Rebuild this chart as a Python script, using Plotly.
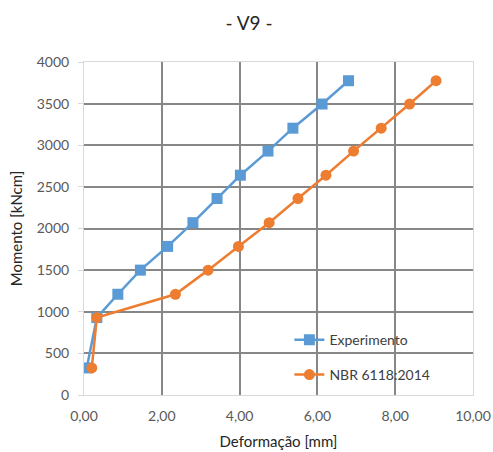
import plotly.graph_objects as go

# Moment-deflection data for beam V9
momento = [325, 930, 1210, 1500, 1785, 2070, 2360, 2640, 2930, 3205, 3495, 3775]
deform_exp = [0.07, 0.33, 0.87, 1.45, 2.15, 2.80, 3.42, 4.02, 4.73, 5.37, 6.12, 6.80]
deform_nbr = [0.20, 0.33, 2.35, 3.19, 3.97, 4.76, 5.50, 6.22, 6.93, 7.64, 8.37, 9.05]

x_ticks = [0, 2, 4, 6, 8, 10]
y_ticks = [0, 500, 1000, 1500, 2000, 2500, 3000, 3500, 4000]

BLUE = "#5B9BD5"
ORANGE = "#ED7D31"
FONT = "Lato"

fig = go.Figure()
fig.add_trace(go.Scatter(
    x=deform_exp, y=momento, mode="lines+markers", name="Experimento",
    line=dict(color=BLUE, width=2.5),
    marker=dict(symbol="square", size=11, color=BLUE),
    legend="legend", showlegend=True,
))
fig.add_trace(go.Scatter(
    x=deform_nbr, y=momento, mode="lines+markers", name="NBR 6118:2014",
    line=dict(color=ORANGE, width=2.5),
    marker=dict(symbol="circle", size=11, color=ORANGE),
    legend="legend2", showlegend=True,
))

legend_common = dict(
    bgcolor="rgba(0,0,0,0)", font=dict(family=FONT, size=14, color="#404040"),
    xanchor="left", yanchor="middle", itemwidth=30, visible=True,
)

fig.update_layout(
    width=493, height=452,
    margin=dict(l=84, r=20, t=62, b=57, autoexpand=False),
    paper_bgcolor="white", plot_bgcolor="white",
    separators=",.",
    showlegend=True,
    title=dict(text="- V9 -", x=0.505, xanchor="center", y=0.948, yanchor="middle",
               font=dict(family=FONT, size=19, color="#262626")),
    xaxis=dict(
        range=[0, 10], tickvals=x_ticks, tickformat=".2f",
        showgrid=True, gridcolor="#878787", gridwidth=1.5,
        showline=True, linecolor="#d9d9d9", linewidth=1, mirror=True,
        zeroline=False, ticks="", ticklabelstandoff=8, automargin=False,
        tickfont=dict(family=FONT, size=14, color="#595959"),
        title=dict(text="Deformação [mm]", font=dict(family=FONT, size=15, color="#262626"), standoff=13),
    ),
    yaxis=dict(
        range=[0, 4000], tickvals=y_ticks, tickformat="d",
        showgrid=True, gridcolor="#878787", gridwidth=1.5,
        showline=True, linecolor="#d9d9d9", linewidth=1, mirror=True,
        zeroline=False, ticks="outside", ticklen=5, tickcolor="#d9d9d9",
        ticklabelstandoff=6, automargin=False,
        tickfont=dict(family=FONT, size=14, color="#595959"),
        title=dict(text="Momento [kNcm]", font=dict(family=FONT, size=15, color="#262626"), standoff=10),
    ),
    legend=dict(x=0.528, y=0.165, **legend_common),
    legend2=dict(x=0.528, y=0.06, **legend_common),
)

fig.write_html("out.html")
